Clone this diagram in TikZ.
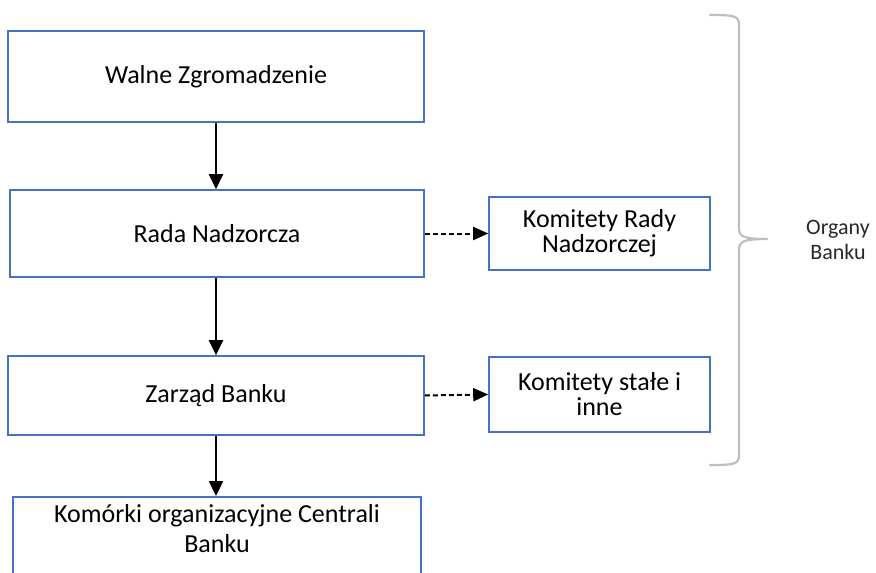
\documentclass[tikz,border=0pt]{standalone}
\usepackage{fontspec}
\setmainfont{Carlito}
\usetikzlibrary{arrows.meta}
\definecolor{boxblue}{RGB}{68,114,196}
\definecolor{bracegray}{RGB}{191,191,191}
\definecolor{labelgray}{RGB}{40,40,40}
\tikzset{
  orgbox/.style={draw=boxblue, line width=1.6pt, fill=white, align=center,
    font=\fontsize{26}{25}\selectfont, inner sep=0pt},
  solidarrow/.style={line width=2.4pt, -{Triangle[length=15pt,width=14pt]}},
  dasharrow/.style={line width=2pt, dash pattern=on 5pt off 3pt, -{Triangle[length=15pt,width=13pt]}},
  bracestyle/.style={draw=bracegray, line width=2.2pt, line cap=round, line join=round},
}
\begin{document}
\begin{tikzpicture}[x=1pt,y=-1pt]
\useasboundingbox (0,0) rectangle (876,573);
\fill[white] (0,0) rectangle (876,573);
\node[orgbox, minimum width=416pt, minimum height=91pt] (wz) at (216,76.5) {Walne Zgromadzenie};
\node[orgbox, minimum width=414pt, minimum height=87pt] (rn) at (217,233.5) {Rada Nadzorcza};
\node[orgbox, minimum width=416pt, minimum height=79pt] (zb) at (216,395.5) {Zarząd Banku};
\node[orgbox, minimum width=221pt, minimum height=73pt] (kr) at (599.5,233.5) {Komitety Rady\\Nadzorczej};
\node[orgbox, minimum width=221pt, minimum height=75pt] (ks) at (599.5,394.5) {Komitety stałe i\\inne};
\node[orgbox, font=\fontsize{26}{30}\selectfont, minimum width=408pt, anchor=north, inner ysep=8pt, text depth=80pt] (kc) at (217,496) {Komórki organizacyjne Centrali\\Banku};
\draw[solidarrow] (wz.south) -- (wz.south |- rn.north);
\draw[solidarrow] (rn.south -| wz.south) -- (zb.north);
\draw[solidarrow] (zb.south) -- (zb.south |- kc.north);
\draw[dasharrow] (rn.east) -- (kr.west);
\draw[dasharrow] (zb.east) -- (ks.west);
\coordinate (bt) at (710,15);
\coordinate (bb) at (710,465);
\coordinate (tip) at (767,239);
\draw[bracestyle] (bt) .. controls (735,15) and (739,16) .. (739,25) -- (739,228)
  .. controls (739,236) and (742,239) .. (tip)
  .. controls (742,239) and (739,242) .. (739,250) -- (739,455)
  .. controls (739,464) and (735,465) .. (bb);
\node[font=\fontsize{22}{25}\selectfont, text=labelgray, align=center] (ob) at (838,240) {Organy\\Banku};
\end{tikzpicture}
\end{document}
